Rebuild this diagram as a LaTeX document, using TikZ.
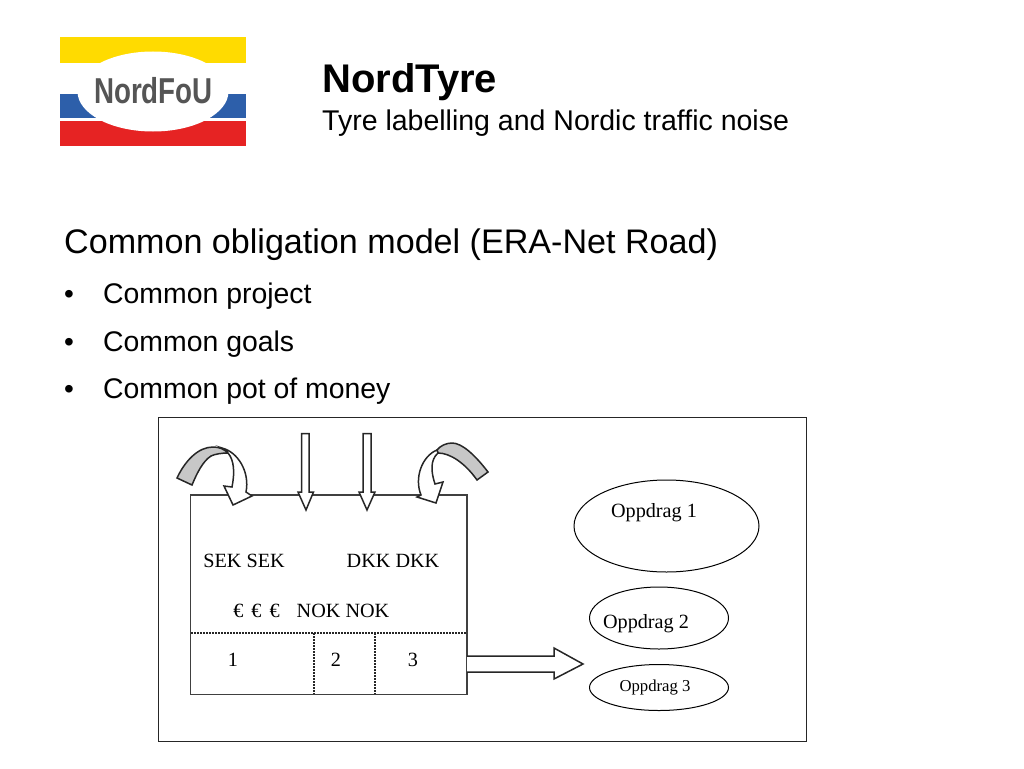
\documentclass[tikz,border=0pt]{standalone}
\usepackage{fontspec}
\setmainfont{Liberation Sans}
\newfontfamily\serifkind{Liberation Serif}
\usetikzlibrary{shapes.geometric}
\definecolor{logoyellow}{RGB}{255,219,0}
\definecolor{logoblue}{RGB}{45,95,170}
\definecolor{logored}{RGB}{230,35,35}
\definecolor{logogray}{RGB}{85,85,85}
\tikzset{
  titletext/.style={anchor=base west, inner sep=0pt, font=\fontsize{28.5}{34}\selectfont},
  bullettext/.style={anchor=base west, inner sep=0pt, font=\fontsize{28.4}{32}\selectfont},
  boxtext/.style={anchor=base, inner sep=0pt, font=\serifkind\fontsize{20.2}{24}\selectfont},
  job/.style={draw=black, ellipse, line width=1pt, inner sep=0pt},
  blockarrow/.style={draw=black!85, fill=white, line width=1.5pt, line join=miter},
  divider/.style={draw=black!85, dash pattern=on 1.5pt off 1.5pt, line width=2pt}
}
\begin{document}
\begin{tikzpicture}[x=1pt,y=-1pt]
  \useasboundingbox (0,0) rectangle (1024,768);

  % logo
  \fill[logoyellow] (60,37) rectangle (246,63);
  \fill[logoblue] (60,94) rectangle (246,118);
  \fill[logored] (60,121) rectangle (246,146);
  \node[ellipse, fill=white, minimum width=151pt, minimum height=80pt, inner sep=0pt] (logo) at (153,91.5) {};
  \node[anchor=base, inner sep=0pt, text=logogray, font=\bfseries\fontsize{36}{40}\selectfont, xscale=.77, transform shape] (logoname) at (153.5,103) {NordFoU};

  % heading
  \node[titletext, font=\bfseries\fontsize{40}{46}\selectfont] (title) at (322,92) {NordTyre};
  \node[titletext] (subtitle) at (322,130) {Tyre labelling and Nordic traffic noise};
  \node[titletext, font=\fontsize{34.1}{40}\selectfont] (model) at (64,253) {Common obligation model (ERA-Net Road)};
  \node[bullettext, font=\fontsize{28}{30}\selectfont] (dot1) at (64,303) {•};
  \node[bullettext, font=\fontsize{28}{30}\selectfont] (dot2) at (64,351) {•};
  \node[bullettext, font=\fontsize{28}{30}\selectfont] (dot3) at (64,398.5) {•};
  \node[bullettext] (item1) at (103,303) {Common project};
  \node[bullettext] (item2) at (103,351) {Common goals};
  \node[bullettext] (item3) at (103,398.5) {Common pot of money};

  % frame and pot
  \draw[black!85, line width=1.2pt] (158.5,417.5) rectangle (806.5,741.5);
  \draw[black!75, line width=1.5pt] (190.5,495) rectangle (467,694.5);
  \draw[divider] (191,633) -- (467,633);
  \draw[divider] (313.5,633) -- (313.5,694);
  \draw[divider] (375,633) -- (375,694);

  % straight arrows in
  \draw[blockarrow] (301.5,433.5) -- (309,433.5) -- (309,492) -- (313.5,492) -- (306,510) -- (298,492) -- (301.5,492) -- cycle;
  \draw[blockarrow] (363,433.5) -- (371,433.5) -- (371,492) -- (375,492) -- (367,510) -- (359,492) -- (363,492) -- cycle;

  % curved arrow, left
  \draw[black!85, fill=black!22, line width=1.5pt] (177,478) .. controls (185,461) and (198,447) .. (213,447)
    .. controls (219,447) and (224,449) .. (228,453) .. controls (222,453) and (215,454) .. (211,456)
    .. controls (203,461) and (197,473) .. (192,485) -- cycle;
  \draw[blockarrow] (222,448) .. controls (238,452) and (250,472) .. (246,492) -- (252,496) -- (233,505) -- (224,486) -- (232,487)
    .. controls (235,472) and (234,460) .. (228,453) .. controls (227,451) and (225,449) .. (222,448) -- cycle;

  % curved arrow, right
  \draw[black!85, fill=black!22, line width=1.5pt] (488,472) .. controls (475,455) and (462,443) .. (452,443)
    .. controls (446,443) and (440,446) .. (437,450) -- (438,453) .. controls (450,453) and (465,463) .. (477,480) -- cycle;
  \draw[blockarrow] (437,450) .. controls (422,456) and (414,478) .. (421,495) -- (417,497) -- (436,503) -- (443,482) -- (435,484)
    .. controls (431,472) and (430,460) .. (438,453) -- cycle;

  % arrow out
  \draw[blockarrow] (467,656) -- (554,656) -- (554,648) -- (583,664) -- (554,679) -- (554,672) -- (467,672);

  % jobs
  \node[job, minimum width=185pt, minimum height=92pt] (job1) at (666.5,526) {};
  \node[job, minimum width=139pt, minimum height=62pt] (job2) at (659,618) {};
  \node[job, minimum width=139pt, minimum height=46pt] (job3) at (659,687.5) {};

  % texts
  \node[boxtext] (sek) at (244,567) {SEK SEK};
  \node[boxtext] (dkk) at (393,567) {DKK DKK};
  \node[boxtext] (euro) at (256.5,617) {€\hspace{3pt} €\hspace{3pt} €};
  \node[boxtext] (nok) at (343,617) {NOK NOK};
  \node[boxtext] (part1) at (233,666) {1};
  \node[boxtext] (part2) at (336,666) {2};
  \node[boxtext] (part3) at (413,666) {3};
  \node[boxtext] (label1) at (654,517) {Oppdrag 1};
  \node[boxtext] (label2) at (646,628) {Oppdrag 2};
  \node[boxtext, font=\serifkind\fontsize{16.7}{20}\selectfont] (label3) at (655,691) {Oppdrag 3};
\end{tikzpicture}
\end{document}
